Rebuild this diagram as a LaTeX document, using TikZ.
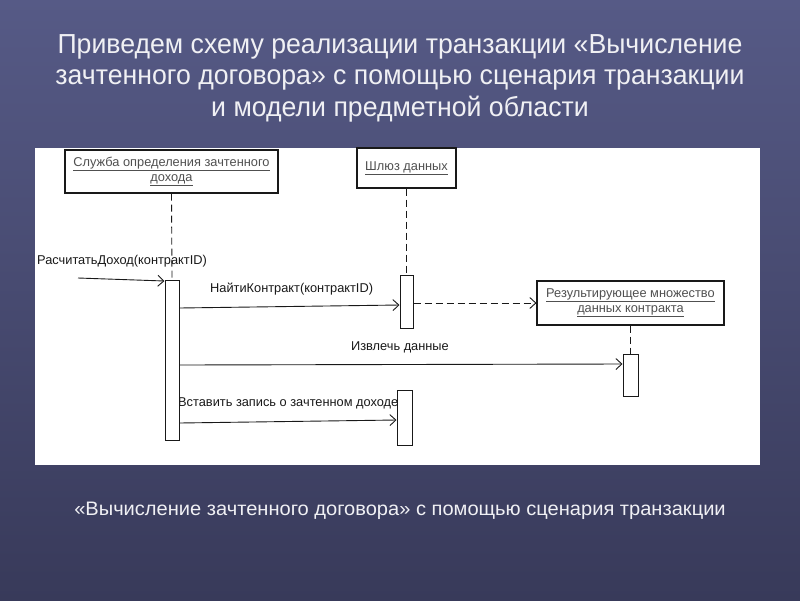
\documentclass[tikz,border=0pt]{standalone}
\usepackage{fontspec}
\setmainfont{Liberation Sans}
\newfontfamily\titlefont[FakeStretch=0.97]{Liberation Sans}
\newfontfamily\capfont[FakeStretch=1.03]{Liberation Sans}
\usetikzlibrary{arrows.meta}
\definecolor{bgtop}{RGB}{86,90,134}
\definecolor{bgbot}{RGB}{56,58,90}
\definecolor{ttl}{RGB}{240,240,244}
\definecolor{boxtxt}{RGB}{80,80,80}
\definecolor{ink}{RGB}{25,25,25}
\begin{document}
\begin{tikzpicture}[x=1pt,y=-1pt,
  objbox/.style={draw=ink,line width=1.1pt,fill=white,font=\fontsize{12.8}{15}\selectfont,text=boxtxt,align=center,inner sep=0pt},
  actbox/.style={draw=ink,line width=1pt,fill=white,inner sep=0pt},
  lifeline/.style={draw=ink,dashed,dash pattern=on 7pt off 4pt,line width=0.9pt},
  msg/.style={draw=ink,line width=0.9pt,-{Straight Barb[length=6pt,width=11pt]}},
  msglbl/.style={font=\fontsize{12.8}{15}\selectfont,text=ink,inner sep=0pt},
  title/.style={font=\titlefont\fontsize{27.5}{31.5}\selectfont,text=ttl,align=center},
]
\useasboundingbox (0,0) rectangle (800,600);
\shade[top color=bgtop,bottom color=bgbot] (0,0) rectangle (800,600);
% title
\node[title] (t) at (400,78) {Приведем схему реализации транзакции «Вычисление\\зачтенного договора» с помощью сценария транзакции\\и модели предметной области};
% white panel
\fill[white] (35,148) rectangle (760,465);
% object boxes
\node[objbox,minimum width=213pt,minimum height=43pt] (svc) at (171.5,171.5) {\underline{Служба определения зачтенного}\\\underline{дохода}};
\node[objbox,minimum width=99pt,minimum height=40pt] (gw) at (406.5,168) {\underline{Шлюз данных}};
\node[objbox,minimum width=187pt,minimum height=44pt] (rs) at (630.5,303) {\underline{Результирующее множество}\\\underline{данных контракта}};
% activations
\node[actbox,minimum width=14pt,minimum height=160pt] (a1) at (172,360) {};
\node[actbox,minimum width=13pt,minimum height=53pt] (a2) at (406.5,301.5) {};
\node[actbox,minimum width=15pt,minimum height=42pt] (a3) at (630.5,375) {};
\node[actbox,minimum width=15pt,minimum height=55pt] (a4) at (404.5,417.5) {};
% lifelines
\draw[lifeline] (svc.south) -- (a1.north);
\draw[lifeline] (gw.south) -- (a2.north);
\draw[lifeline] (rs.south) -- (a3.north);
% messages
\coordinate (m1s) at (78,278);
\draw[msg] (m1s) -- (a1.north west |- 0,281);
\node[msglbl,anchor=west] (l1) at (37,261) {РасчитатьДоход(контрактID)};
\draw[msg] (a1.east |- 0,308) -- (a2.west |- 0,305);
\node[msglbl,anchor=west] (l2) at (210,289) {НайтиКонтракт(контрактID)};
\draw[msg,dashed,dash pattern=on 7pt off 4pt] (a2.east |- 0,303) -- (rs.west);
\draw[msg] (a1.east |- 0,365) -- (a3.west |- 0,364);
\node[msglbl] (l3) at (400,347) {Извлечь данные};
\draw[msg] (a1.east |- 0,423) -- (a4.west |- 0,420);
\node[msglbl,anchor=west] (l4) at (178,403) {Вставить запись о зачтенном доходе};
% caption
\node[font=\capfont\fontsize{19.5}{22}\selectfont,text=ttl] (cap) at (400,511) {«Вычисление зачтенного договора» с помощью сценария транзакции};
\end{tikzpicture}
\end{document}
